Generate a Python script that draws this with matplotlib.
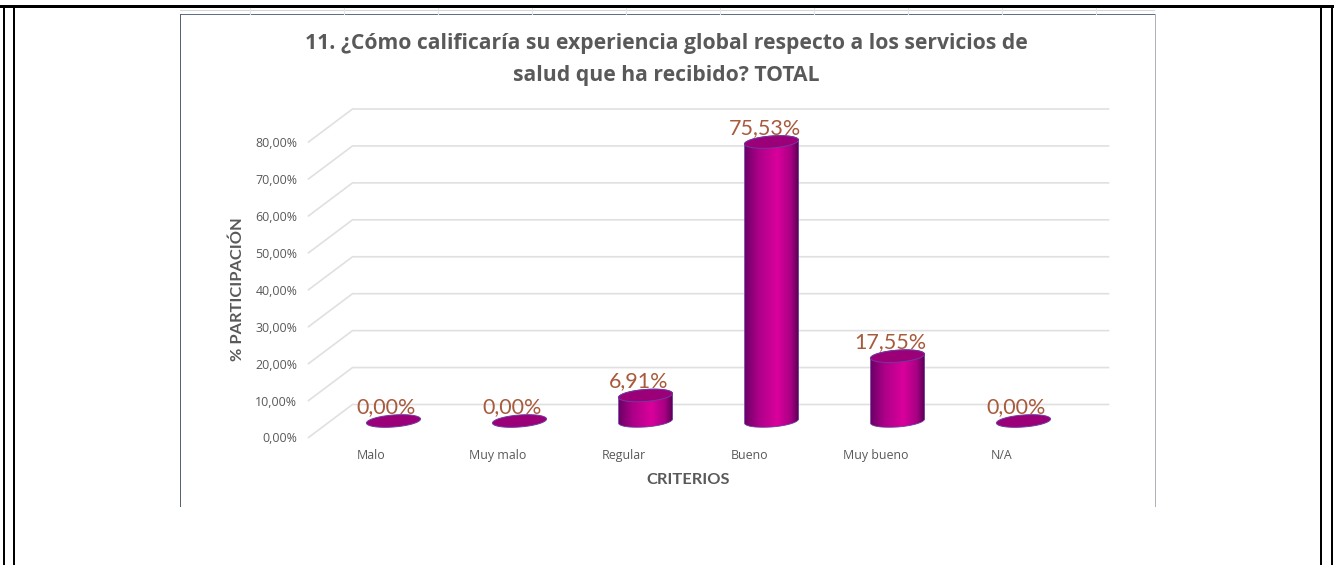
import numpy as np
import matplotlib
matplotlib.use("Agg")
import matplotlib.pyplot as plt
from matplotlib.colors import LinearSegmentedColormap
from matplotlib.patches import Polygon, Rectangle

plt.rcParams["font.family"] = ["Lato", "DejaVu Sans"]

W, H = 1334, 565

CATEGORIES = ["Malo", "Muy malo", "Regular", "Bueno", "Muy bueno", "N/A"]
VALUES = [0.00, 0.00, 6.91, 75.53, 17.55, 0.00]
Y_TICKS = [0, 10, 20, 30, 40, 50, 60, 70, 80]
TITLE_LINES = ["11. ¿Cómo calificaría su experiencia global respecto a los servicios de",
               "salud que ha recibido? TOTAL"]

INK = "#595959"
GRID = "#e0e0e0"
LABEL = "#a85a3c"
CYL_TOP = "#9c0078"
CYL_EDGE = "#6f3a9e"
CYL_CMAP = LinearSegmentedColormap.from_list(
    "cyl", [(0, "#6e0066"), (0.25, "#ac0088"), (0.6, "#da009c"),
            (0.85, "#a80084"), (1, "#580052")])

# front plane of the 3D box, in pixels
FRONT_L, FRONT_R, FRONT_Y0, FRONT_Y80 = 308.5, 1064.5, 437.5, 142.0
PX_X = (FRONT_R - FRONT_L) / 6
PX_Y = (FRONT_Y0 - FRONT_Y80) / 80
DEPTH_X, DEPTH_Y = 44 / PX_X, 33 / PX_Y  # floor depth in data units
CYL_A, CYL_B, CYL_TILT = 27 / PX_X, 6 / PX_Y, 2 / PX_Y


def ellipse_xy(cx, cy, t):
    return cx + CYL_A * np.cos(t), cy + CYL_B * np.sin(t) + CYL_TILT * np.cos(t)


def draw_cylinder(ax, i, value):
    cx, base = i + DEPTH_X / 2, DEPTH_Y / 2
    top = base + value
    t = np.linspace(0, 2 * np.pi, 120)
    if value > 0:
        tb = np.linspace(np.pi, 2 * np.pi, 60)
        bx, by = ellipse_xy(cx, base, tb)
        tt = np.linspace(0, np.pi, 60)
        ux, uy = ellipse_xy(cx, top, tt)
        verts = np.column_stack([np.r_[bx, ux], np.r_[by, uy]])
        body = Polygon(verts, closed=True, facecolor="none", edgecolor=CYL_EDGE,
                       linewidth=0.6, zorder=3, clip_on=False)
        ax.add_patch(body)
        grad = np.linspace(0, 1, 256)[None, :]
        im = ax.imshow(grad, cmap=CYL_CMAP, aspect="auto", zorder=2.9,
                       extent=(cx - CYL_A, cx + CYL_A, by.min(), uy.max()))
        im.set_clip_path(body)
    ex, ey = ellipse_xy(cx, top, t)
    ax.add_patch(Polygon(np.column_stack([ex, ey]), closed=True, facecolor=CYL_TOP,
                         edgecolor=CYL_EDGE, linewidth=0.7, zorder=4, clip_on=False))
    ax.annotate(f"{value:.2f}%".replace(".", ","), (cx, top), xytext=(-5, 10),
                textcoords="offset points", ha="center", va="center",
                color=LABEL, fontsize=15.5, zorder=5)


fig = plt.figure(figsize=(W / 100, H / 100), dpi=100, facecolor="white")

# page borders and the pasted chart frame, in pixel coordinates
bg = fig.add_axes([0, 0, 1, 1], zorder=0)
bg.set_xlim(0, W)
bg.set_ylim(H, 0)
bg.axis("off")
for x0, y0, w, h, c in [(3.3, 5, 2, H, "black"), (13.3, 5, 1.8, H, "black"),
                        (1320, 5, 2, H, "black"), (1331, 5, 2, H, "black"),
                        (0, 5, W, 3, "black"),
                        (180, 9.5, 975, 1.5, "#d4d6d8"),
                        (180, 13.5, 975, 1.5, "#5f6f85"),
                        (179.5, 14, 1.6, 493, "#5a6272"),
                        (1155, 14, 1.2, 493, "#b0b3b8")]:
    bg.add_patch(Rectangle((x0, y0), w, h, facecolor=c, edgecolor="none"))
for x in np.arange(250, 1155, 94):
    bg.plot([x, x], [8, 13.5], color="#e4e6e8", linewidth=0.8)

ax = fig.add_axes([FRONT_L / W, 1 - FRONT_Y0 / H,
                   (FRONT_R - FRONT_L) / W, (FRONT_Y0 - FRONT_Y80) / H], zorder=1)
ax.patch.set_alpha(0)
for s in ax.spines.values():
    s.set_visible(False)

# back wall gridlines and the slanted side wall
for y in Y_TICKS:
    ax.plot([-0.5, -0.5 + DEPTH_X, 5.5 + DEPTH_X], [y, y + DEPTH_Y, y + DEPTH_Y],
            color=GRID, linewidth=1.2, clip_on=False, zorder=1, solid_joinstyle="miter")

for i, v in enumerate(VALUES):
    draw_cylinder(ax, i, v)

ax.set_xlim(-0.5, 5.5)
ax.set_ylim(0, 80)
ax.set_xticks(range(len(CATEGORIES)), CATEGORIES, family="Open Sans")
ax.set_yticks(Y_TICKS, [f"{y:.2f}%".replace(".", ",") for y in Y_TICKS], family="Open Sans")
ax.tick_params(axis="both", length=0, labelsize=8.9, labelcolor=INK)
ax.tick_params(axis="y", pad=8)
ax.tick_params(axis="x", pad=8.5)

for y, line in zip((43, 76), TITLE_LINES):
    bg.text(666.5, y, line, ha="center", va="center", color=INK, fontsize=15.2,
            fontweight="bold", family="Open Sans")
bg.text(238, 289, "% PARTICIPACIÓN", rotation=90, ha="center", va="center",
        color=INK, fontsize=11.8, fontweight="bold")
bg.text(688, 480, "CRITERIOS", ha="center", va="center", color=INK, fontsize=11.8,
        fontweight="bold")

fig.savefig("out.png", dpi=100, facecolor="white")
